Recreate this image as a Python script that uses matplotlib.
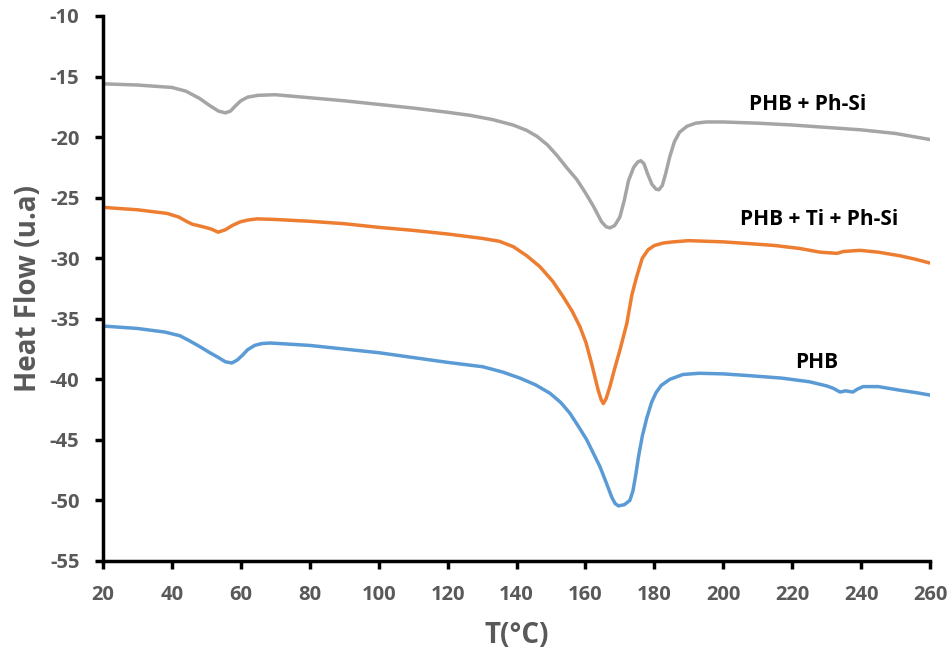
import matplotlib
matplotlib.use("Agg")
import matplotlib.pyplot as plt

# ---- data ----
x_phsi = [20, 30, 40, 44, 48, 51, 53.5, 55.5, 57, 58.5, 60, 62, 65, 70, 80, 90, 100, 110, 120, 126.5,
          133, 139, 143, 146, 149, 151.7, 154.5, 157.5, 160, 162.3, 164.7, 166, 167.1, 168.5, 170,
          171.3, 172.5, 174, 175.2, 176.1, 177, 178, 179.3, 180.5, 181.3, 182.3, 183.3, 184.5, 185.8,
          187.3, 189.5, 192, 195, 200, 210, 220, 230, 240, 250, 260]
y_phsi = [-15.6, -15.7, -15.9, -16.2, -16.8, -17.4, -17.85, -18.0, -17.85, -17.4, -17.0, -16.7, -16.55,
          -16.5, -16.75, -17.0, -17.3, -17.6, -17.95, -18.2, -18.55, -19.0, -19.45, -19.95, -20.65, -21.5,
          -22.5, -23.5, -24.6, -25.7, -27.0, -27.4, -27.5, -27.3, -26.6, -25.2, -23.6, -22.5, -22.05,
          -21.95, -22.2, -23.0, -23.9, -24.3, -24.35, -24.0, -23.0, -21.6, -20.4, -19.6, -19.1, -18.85,
          -18.75, -18.75, -18.85, -19.0, -19.2, -19.4, -19.7, -20.2]

x_ti = [20, 30, 38.6, 42, 44.5, 46, 49, 51.5, 53.4, 55.5, 57.5, 59.8, 62, 64.7, 70, 80, 90, 100, 110, 120,
        130, 135, 139.1, 143, 146.8, 150.5, 153.6, 156.2, 158.4, 160.2, 161.8, 163.7, 164.6, 165.2, 166,
        167.1, 168.5, 170, 171, 172, 173.5, 174.9, 176.5, 178.2, 180, 182.5, 185.4, 190, 195, 200,
        207.8, 215, 222.3, 228.1, 233, 234.8, 237, 239.7, 245, 251.3, 256, 260]
y_ti = [-25.8, -26.0, -26.3, -26.6, -27.0, -27.2, -27.4, -27.6, -27.85, -27.65, -27.3, -27.0, -26.85,
        -26.75, -26.8, -26.95, -27.15, -27.45, -27.7, -28.0, -28.36, -28.6, -29.05, -29.8, -30.7, -31.9,
        -33.2, -34.4, -35.65, -37.0, -38.7, -40.9, -41.7, -42.0, -41.6, -40.6, -39.1, -37.6, -36.5,
        -35.4, -33.0, -31.5, -30.0, -29.3, -28.95, -28.75, -28.65, -28.55, -28.6, -28.65, -28.8, -28.95,
        -29.2, -29.5, -29.6, -29.45, -29.4, -29.35, -29.5, -29.8, -30.1, -30.4]

x_phb = [20, 30, 38, 42.3, 45, 48.1, 51, 53.5, 55.5, 57.4, 59, 60.5, 62, 64, 66, 68.5, 80, 90, 100, 110,
         120, 130.2, 136, 141, 145.5, 149.7, 152.8, 155.5, 158, 160.4, 162.3, 164.2, 166, 167.6, 168.6,
         169.6, 171.3, 172.9, 173.8, 174.6, 175.4, 176.5, 177.8, 179.2, 180.5, 182, 184.5, 188.3, 193,
         200, 207.8, 217, 225, 230.1, 232, 233.9, 235.5, 237.6, 239, 240.6, 245, 251.3, 256, 260]
y_phb = [-35.6, -35.8, -36.1, -36.4, -36.8, -37.3, -37.8, -38.2, -38.55, -38.65, -38.4, -38.0, -37.55,
         -37.2, -37.05, -37.0, -37.2, -37.5, -37.8, -38.2, -38.6, -38.96, -39.4, -39.9, -40.45, -41.15,
         -41.9, -42.8, -43.9, -45.0, -46.1, -47.2, -48.5, -49.7, -50.25, -50.45, -50.35, -50.0, -49.2,
         -47.9, -46.4, -44.7, -43.2, -41.9, -41.1, -40.5, -40.0, -39.6, -39.5, -39.55, -39.7, -39.9,
         -40.2, -40.55, -40.75, -41.05, -40.95, -41.05, -40.8, -40.6, -40.6, -40.9, -41.1, -41.3]

series_labels = ["PHB + Ph-Si", "PHB + Ti + Ph-Si", "PHB"]
series_colors = ["#A5A5A5", "#ED7D31", "#5B9BD5"]
label_x = [224.6, 227.8, 227.2]
label_y = [-17.3, -26.8, -38.65]

x_ticks = list(range(20, 261, 20))
y_ticks = list(range(-55, -9, 5))

# ---- figure ----
plt.rcParams['font.family'] = ['Open Sans', 'DejaVu Sans']
plt.rcParams['axes.unicode_minus'] = False
fig = plt.figure(figsize=(9.53, 6.59), dpi=100)
ax = fig.add_axes([103/953, 1 - 561/659, (930 - 103)/953, (561 - 16)/659])

series = [(x_phsi, y_phsi), (x_ti, y_ti), (x_phb, y_phb)]
for (xs, ys), c in zip(series, series_colors):
    ax.plot(xs, ys, color=c, lw=2.5, solid_joinstyle='round', solid_capstyle='round')

for lab, lx, ly in zip(series_labels, label_x, label_y):
    ax.text(lx, ly, lab, ha='center', va='center', fontsize=15, fontweight='bold', color='black')

ax.set_xlim(20, 260)
ax.set_ylim(-55, -10)
ax.set_xticks(x_ticks)
ax.set_yticks(y_ticks)
ax.tick_params(axis='both', direction='out', length=6, width=2.5, color='black',
               labelsize=14.5, labelcolor='#595959')
ax.tick_params(axis='x', pad=11)
ax.tick_params(axis='y', pad=11)
for lbl in ax.get_xticklabels() + ax.get_yticklabels():
    lbl.set_fontweight('bold')

for s in ['top', 'right']:
    ax.spines[s].set_visible(False)
for s in ['left', 'bottom']:
    ax.spines[s].set_linewidth(2.5)
    ax.spines[s].set_color('black')

ax.set_xlabel('T(°C)', fontsize=20, fontweight='bold', color='#595959', labelpad=12)
ax.set_ylabel('Heat Flow (u.a)', fontsize=20, fontweight='bold', color='#595959', labelpad=5)

fig.savefig('out.png', dpi=100)
